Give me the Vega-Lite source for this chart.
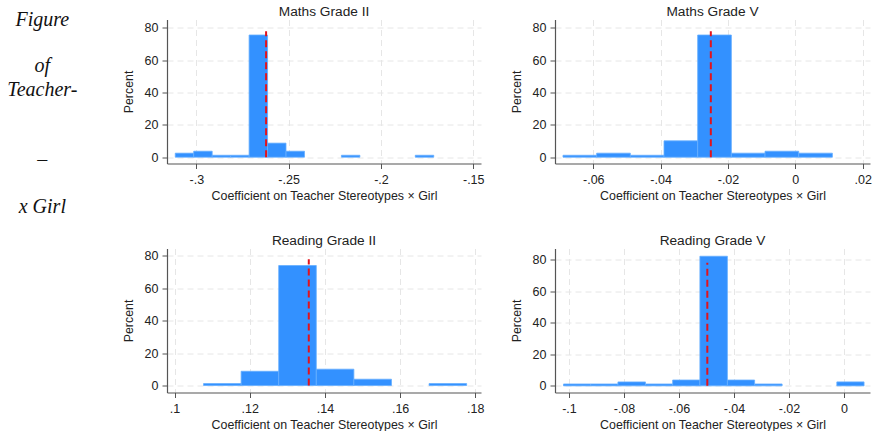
{
  "$schema": "https://vega.github.io/schema/vega-lite/v6.json",
  "padding": {"top": 4.5, "left": 0, "right": 0, "bottom": 0},
  "background": "white",
  "datasets": {
    "caption": [
      {"word": "Figure", "line": 0},
      {"word": "of", "line": 2},
      {"word": "Teacher-", "line": 3},
      {"word": "–", "line": 6},
      {"word": "x Girl", "line": 8}
    ],
    "hist": [
      {"panel": "Maths Grade II", "b0": -0.3114, "b1": -0.3014, "pct": 2.5},
      {"panel": "Maths Grade II", "b0": -0.3014, "b1": -0.2914, "pct": 3.7},
      {"panel": "Maths Grade II", "b0": -0.2914, "b1": -0.2814, "pct": 1.2},
      {"panel": "Maths Grade II", "b0": -0.2814, "b1": -0.2714, "pct": 1.2},
      {"panel": "Maths Grade II", "b0": -0.2714, "b1": -0.2614, "pct": 75.6},
      {"panel": "Maths Grade II", "b0": -0.2614, "b1": -0.2514, "pct": 8.7},
      {"panel": "Maths Grade II", "b0": -0.2514, "b1": -0.2414, "pct": 3.7},
      {"panel": "Maths Grade II", "b0": -0.2214, "b1": -0.2114, "pct": 1.2},
      {"panel": "Maths Grade II", "b0": -0.1814, "b1": -0.1714, "pct": 1.2},
      {"panel": "Maths Grade V", "b0": -0.0690, "b1": -0.0590, "pct": 1.2},
      {"panel": "Maths Grade V", "b0": -0.0590, "b1": -0.0490, "pct": 2.5},
      {"panel": "Maths Grade V", "b0": -0.0490, "b1": -0.0390, "pct": 1.2},
      {"panel": "Maths Grade V", "b0": -0.0390, "b1": -0.0290, "pct": 10.1},
      {"panel": "Maths Grade V", "b0": -0.0290, "b1": -0.0190, "pct": 75.6},
      {"panel": "Maths Grade V", "b0": -0.0190, "b1": -0.0090, "pct": 2.5},
      {"panel": "Maths Grade V", "b0": -0.0090, "b1": 0.0010, "pct": 3.7},
      {"panel": "Maths Grade V", "b0": 0.0010, "b1": 0.0110, "pct": 2.5},
      {"panel": "Reading Grade II", "b0": 0.1077, "b1": 0.1177, "pct": 1.2},
      {"panel": "Reading Grade II", "b0": 0.1177, "b1": 0.1277, "pct": 8.8},
      {"panel": "Reading Grade II", "b0": 0.1277, "b1": 0.1377, "pct": 74.1},
      {"panel": "Reading Grade II", "b0": 0.1377, "b1": 0.1477, "pct": 10.1},
      {"panel": "Reading Grade II", "b0": 0.1477, "b1": 0.1577, "pct": 3.9},
      {"panel": "Reading Grade II", "b0": 0.1677, "b1": 0.1777, "pct": 1.2},
      {"panel": "Reading Grade V", "b0": -0.1020, "b1": -0.0921, "pct": 1.2},
      {"panel": "Reading Grade V", "b0": -0.0921, "b1": -0.0822, "pct": 1.2},
      {"panel": "Reading Grade V", "b0": -0.0822, "b1": -0.0722, "pct": 2.5},
      {"panel": "Reading Grade V", "b0": -0.0722, "b1": -0.0623, "pct": 1.2},
      {"panel": "Reading Grade V", "b0": -0.0623, "b1": -0.0524, "pct": 3.7},
      {"panel": "Reading Grade V", "b0": -0.0524, "b1": -0.0424, "pct": 82.1},
      {"panel": "Reading Grade V", "b0": -0.0424, "b1": -0.0325, "pct": 3.7},
      {"panel": "Reading Grade V", "b0": -0.0325, "b1": -0.0225, "pct": 1.2},
      {"panel": "Reading Grade V", "b0": -0.0026, "b1": 0.0073, "pct": 2.5}
    ],
    "means": [
      {"panel": "Maths Grade II", "mean": -0.2622},
      {"panel": "Maths Grade V", "mean": -0.0251},
      {"panel": "Reading Grade II", "mean": 0.1357},
      {"panel": "Reading Grade V", "mean": -0.0497}
    ]
  },
  "bounds": "flush",
  "align": "each",
  "columns": 3,
  "spacing": {"row": 85, "column": 74},
  "concat": [
    {
      "width": 92.7,
      "height": 144,
      "data": {"name": "caption"},
      "mark": {"type": "text", "font": "Liberation Serif", "fontStyle": "italic", "fontSize": 20, "align": "center", "baseline": "middle", "color": "#111", "dx": -4},
      "encoding": {
        "y": {"field": "line", "type": "quantitative", "scale": {"domain": [0, 6.128], "reverse": true, "nice": false, "zero": false}, "axis": null},
        "text": {"field": "word", "type": "nominal"}
      }
    },
    {
      "width": 314, "height": 144,
      "title": "Maths Grade II",
      "layer": [
        {
          "data": {"name": "hist"},
          "transform": [{"filter": "datum.panel == 'Maths Grade II'"}],
          "mark": {"type": "bar", "fill": "#3391ff", "stroke": "#66aeff", "strokeWidth": 0.8},
          "encoding": {
            "x": {"field": "b0", "type": "quantitative", "scale": {"domain": [-0.31587, -0.1458], "nice": false, "zero": false},
                  "axis": {"title": "Coefficient on Teacher Stereotypes × Girl", "values": [-0.3, -0.25, -0.2, -0.15], "labelExpr": "replace(toString(datum.value), '0.', '.')"}},
            "x2": {"field": "b1"},
            "y": {"field": "pct", "type": "quantitative", "scale": {"domain": [-3.9, 85.2], "nice": false, "zero": false},
                  "axis": {"title": "Percent", "values": [0, 20, 40, 60, 80], "labelOverlap": false}},
            "y2": {"datum": 0}
          }
        },
        {
          "data": {"name": "means"},
          "transform": [{"filter": "datum.panel == 'Maths Grade II'"}],
          "mark": {"type": "rule", "color": "#e3121b", "strokeDash": [7, 4], "strokeWidth": 2},
          "encoding": {"x": {"field": "mean", "type": "quantitative"}, "y": {"datum": 0, "type": "quantitative", "axis": {"title": "Percent", "values": [0, 20, 40, 60, 80], "labelOverlap": false}}, "y2": {"datum": 78}}
        }
      ]
    },
    {
      "width": 315, "height": 144,
      "title": "Maths Grade V",
      "layer": [
        {
          "data": {"name": "hist"},
          "transform": [{"filter": "datum.panel == 'Maths Grade V'"}],
          "mark": {"type": "bar", "fill": "#3391ff", "stroke": "#66aeff", "strokeWidth": 0.8},
          "encoding": {
            "x": {"field": "b0", "type": "quantitative", "scale": {"domain": [-0.07137, 0.02217], "nice": false, "zero": false},
                  "axis": {"title": "Coefficient on Teacher Stereotypes × Girl", "values": [-0.06, -0.04, -0.02, 0, 0.02], "labelExpr": "replace(toString(datum.value), '0.', '.')"}},
            "x2": {"field": "b1"},
            "y": {"field": "pct", "type": "quantitative", "scale": {"domain": [-3.9, 85.2], "nice": false, "zero": false},
                  "axis": {"title": "Percent", "values": [0, 20, 40, 60, 80], "labelOverlap": false}},
            "y2": {"datum": 0}
          }
        },
        {
          "data": {"name": "means"},
          "transform": [{"filter": "datum.panel == 'Maths Grade V'"}],
          "mark": {"type": "rule", "color": "#e3121b", "strokeDash": [7, 4], "strokeWidth": 2},
          "encoding": {"x": {"field": "mean", "type": "quantitative"}, "y": {"datum": 0, "type": "quantitative", "axis": {"title": "Percent", "values": [0, 20, 40, 60, 80], "labelOverlap": false}}, "y2": {"datum": 78}}
        }
      ]
    },
    {
      "width": 92.7,
      "height": 144,
      "data": {"name": "caption"},
      "transform": [{"filter": "false"}],
      "mark": {"type": "text"},
      "encoding": {"text": {"field": "word", "type": "nominal"}}
    },
    {
      "width": 314, "height": 144,
      "title": "Reading Grade II",
      "layer": [
        {
          "data": {"name": "hist"},
          "transform": [{"filter": "datum.panel == 'Reading Grade II'"}],
          "mark": {"type": "bar", "fill": "#3391ff", "stroke": "#66aeff", "strokeWidth": 0.8},
          "encoding": {
            "x": {"field": "b0", "type": "quantitative", "scale": {"domain": [0.09798, 0.18152], "nice": false, "zero": false},
                  "axis": {"title": "Coefficient on Teacher Stereotypes × Girl", "values": [0.1, 0.12, 0.14, 0.16, 0.18], "labelExpr": "replace(toString(datum.value), '0.', '.')"}},
            "x2": {"field": "b1"},
            "y": {"field": "pct", "type": "quantitative", "scale": {"domain": [-4.3, 84.6], "nice": false, "zero": false},
                  "axis": {"title": "Percent", "values": [0, 20, 40, 60, 80], "labelOverlap": false}},
            "y2": {"datum": 0}
          }
        },
        {
          "data": {"name": "means"},
          "transform": [{"filter": "datum.panel == 'Reading Grade II'"}],
          "mark": {"type": "rule", "color": "#e3121b", "strokeDash": [7, 4], "strokeWidth": 2},
          "encoding": {"x": {"field": "mean", "type": "quantitative"}, "y": {"datum": 0, "type": "quantitative", "axis": {"title": "Percent", "values": [0, 20, 40, 60, 80], "labelOverlap": false}}, "y2": {"datum": 78}}
        }
      ]
    },
    {
      "width": 315, "height": 144,
      "title": "Reading Grade V",
      "layer": [
        {
          "data": {"name": "hist"},
          "transform": [{"filter": "datum.panel == 'Reading Grade V'"}],
          "mark": {"type": "bar", "fill": "#3391ff", "stroke": "#66aeff", "strokeWidth": 0.8},
          "encoding": {
            "x": {"field": "b0", "type": "quantitative", "scale": {"domain": [-0.10509, 0.00946], "nice": false, "zero": false},
                  "axis": {"title": "Coefficient on Teacher Stereotypes × Girl", "values": [-0.1, -0.08, -0.06, -0.04, -0.02, 0], "labelExpr": "replace(toString(datum.value), '0.', '.')"}},
            "x2": {"field": "b1"},
            "y": {"field": "pct", "type": "quantitative", "scale": {"domain": [-4.2, 87.0], "nice": false, "zero": false},
                  "axis": {"title": "Percent", "values": [0, 20, 40, 60, 80], "labelOverlap": false}},
            "y2": {"datum": 0}
          }
        },
        {
          "data": {"name": "means"},
          "transform": [{"filter": "datum.panel == 'Reading Grade V'"}],
          "mark": {"type": "rule", "color": "#e3121b", "strokeDash": [7, 4], "strokeWidth": 2},
          "encoding": {"x": {"field": "mean", "type": "quantitative"}, "y": {"datum": 0, "type": "quantitative", "axis": {"title": "Percent", "values": [0, 20, 40, 60, 80], "labelOverlap": false}}, "y2": {"datum": 78}}
        }
      ]
    }
  ],
  "config": {
    "font": "Liberation Sans",
    "view": {"stroke": null},
    "axis": {
      "domainColor": "#555555",
      "domainWidth": 1.2,
      "tickColor": "#555555",
      "tickSize": 5,
      "tickWidth": 1,
      "labelFont": "Liberation Sans",
      "labelFontSize": 12.5,
      "labelColor": "#222222",
      "labelOverlap": false,
      "labelFlush": false,
      "titleFont": "Liberation Sans",
      "titleFontSize": 12.4,
      "titleFontWeight": "normal",
      "titleColor": "#222222",
      "grid": true,
      "gridColor": "#e6e6e6",
      "gridDash": [6, 4],
      "gridWidth": 1
    },
    "axisX": {"labelPadding": 5, "titlePadding": 3},
    "axisY": {"labelPadding": 4, "titlePadding": 9},
    "title": {"font": "Liberation Sans", "fontSize": 13.7, "fontWeight": "normal", "color": "#222222", "offset": 0.7, "anchor": "middle"}
  }
}
